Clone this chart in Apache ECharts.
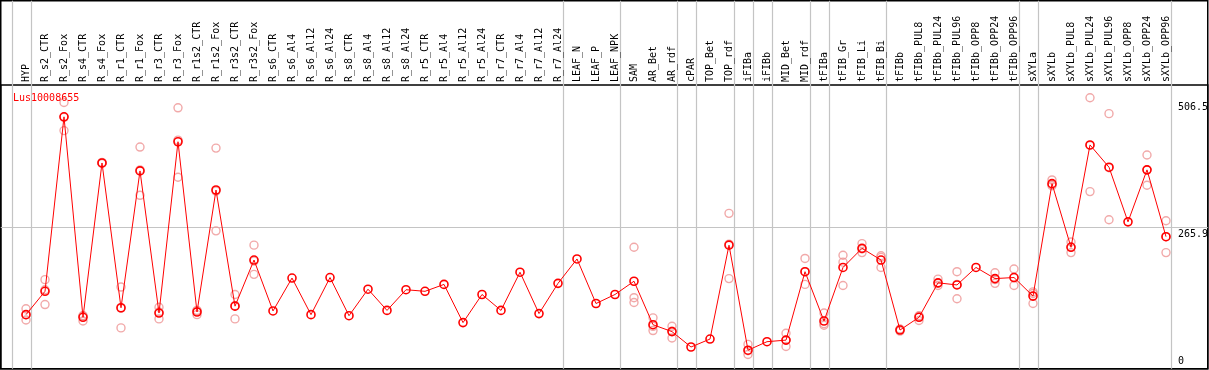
<!DOCTYPE html>
<html><head><meta charset="utf-8">
<script src="https://cdn.jsdelivr.net/npm/echarts@6/dist/echarts.min.js"></script>
<style>html,body{margin:0;padding:0;background:#fff}#c{width:1209px;height:370px}</style>
</head><body><div id="c"></div>
<script>
// ---------- data ----------
const geneId = 'Lus10008655';
const categories = ['HYP','R_s2_CTR','R_s2_Fox','R_s4_CTR','R_s4_Fox','R_r1_CTR','R_r1_Fox','R_r3_CTR','R_r3_Fox',
 'R_r1s2_CTR','R_r1s2_Fox','R_r3s2_CTR','R_r3s2_Fox','R_s6_CTR','R_s6_Al4','R_s6_Al12','R_s6_Al24','R_s8_CTR',
 'R_s8_Al4','R_s8_Al12','R_s8_Al24','R_r5_CTR','R_r5_Al4','R_r5_Al12','R_r5_Al24','R_r7_CTR','R_r7_Al4','R_r7_Al12',
 'R_r7_Al24','LEAF_N','LEAF_P','LEAF_NPK','SAM','AR_Bet','AR_rdf','cPAR','TOP_Bet','TOP_rdf','iFIBa','iFIBb',
 'MID_Bet','MID_rdf','tFIBa','tFIB_Gr','tFIB_Li','tFIB_Bi','tFIBb','tFIBb_PUL8','tFIBb_PUL24','tFIBb_PUL96',
 'tFIBb_OPP8','tFIBb_OPP24','tFIBb_OPP96','sXYLa','sXYLb','sXYLb_PUL8','sXYLb_PUL24','sXYLb_PUL96','sXYLb_OPP8',
 'sXYLb_OPP24','sXYLb_OPP96'];
const means = [102,146,475,97,388,115,373,105,428,107,337,118,205,109,171,102,172,100,150,110,149,146,159,87,140,
 110,182,104,161,207,123,140,165,83,70,41,56,233,35,51,54,183,90,191,227,205,73,97,162,158,191,170,172,137,349,229,
 422,380,277,375,249];
const repA = [113,168,502,100,389,154,418,116,492,109,416,140,233,null,null,null,null,null,null,null,null,null,null,null,null,
 null,null,null,null,null,null,null,229,96,80,null,null,293,46,null,67,208,105,214,236,213,71,91,169,183,null,181,188,145,356,239,
 511,481,null,403,279];
const repB = [92,121,449,90,387,77,327,94,361,102,260,94,178,null,null,null,null,null,null,null,null,null,null,null,null,
 null,null,null,null,null,null,null,134,72,58,null,null,170,27,null,42,159,82,157,219,191,75,100,157,132,null,161,157,123,345,219,
 334,281,null,346,219];
const repC = [102,149,474,100,388,114,375,107,431,110,335,119,203,null,null,null,null,null,null,null,null,null,null,null,null,
 null,null,null,null,null,null,null,125,80,71,null,null,235,34,null,54,183,85,201,226,210,74,99,161,159,null,168,172,142,347,230,
 421,379,null,375,249];
const groupEnds = [-1,0,28,31,34,35,37,38,39,41,42,45,52,53,60];
const axisMarks = [506.5, 265.9, 0];
const gridMark = 265.9;
const yMax = 535;

// ---------- layout ----------
const step = 19, firstX = 26, W = 1209;
const fL = 0.75, fR = 1.25, fT = 0.75, fB = 1.25, pTop = 85;
const xMin = (fL - firstX) / step, xMax = (W - fR - firstX) / step;
const font = 'DejaVu Sans Mono';

const reps = [];
[repA, repB, repC].forEach(arr => arr.forEach((v, i) => { if (v != null) reps.push([i, v]); }));

const labelLines = axisMarks.map(v => [
  { coord: [60.55, v],
    label: { show: true, formatter: String(v), position: v === 0 ? 'insideStartTop' : 'insideStartBottom',
      distance: [1.5, 2], color: '#000', fontFamily: font, fontSize: 10 },
    lineStyle: { color: 'rgba(0,0,0,0)', width: 1 } },
  { coord: [xMax, v] }
]);

const chart = echarts.init(document.getElementById('c'), null, { renderer: 'canvas' });
chart.setOption({
  animation: false,
  title: { text: geneId, left: 8, top: 88, textStyle: { color: '#f00', fontFamily: font, fontSize: 10, fontWeight: 'normal' } },
  grid: [
    { left: firstX - step / 2, width: step * categories.length, top: pTop, bottom: fB },
    { left: fL, right: fR, top: pTop, bottom: fB, show: true, borderColor: '#000', borderWidth: 1.5, backgroundColor: 'transparent' },
    { left: fL, right: fR, top: fT, bottom: fB, show: true, borderColor: '#000', borderWidth: 1.5, backgroundColor: 'transparent' }
  ],
  xAxis: [
    { type: 'category', gridIndex: 0, data: categories, position: 'top', boundaryGap: true,
      axisLine: { show: false }, axisTick: { show: false }, splitLine: { show: false },
      axisLabel: { interval: 0, rotate: 90, margin: 3, color: '#000', fontFamily: font, fontSize: 10 } },
    { type: 'value', gridIndex: 1, min: xMin, max: xMax, show: false },
    { type: 'value', gridIndex: 2, min: xMin, max: xMax, show: false }
  ],
  yAxis: [
    { type: 'value', gridIndex: 0, min: 0, max: yMax, show: false },
    { type: 'value', gridIndex: 1, min: 0, max: yMax, show: false },
    { type: 'value', gridIndex: 2, min: 0, max: 1, show: false }
  ],
  series: [
    { type: 'line', xAxisIndex: 2, yAxisIndex: 2, data: [], silent: true, z: 0,
      markLine: { silent: true, symbol: ['none', 'none'], z: 0, label: { show: false },
        lineStyle: { color: '#c4c4c4', width: 1.2, type: 'solid' },
        data: groupEnds.map(i => ({ xAxis: i + 0.25 })) } },
    { type: 'line', xAxisIndex: 1, yAxisIndex: 1, data: [], silent: true, z: 0,
      markLine: { silent: true, symbol: ['none', 'none'], z: 0,
        label: { show: true, color: '#000', fontFamily: font, fontSize: 10 },
        lineStyle: { color: '#c4c4c4', width: 1.2, type: 'solid' },
        data: [{ yAxis: gridMark, label: { show: false } }].concat(labelLines) } },
    { type: 'scatter', xAxisIndex: 0, yAxisIndex: 0, data: reps, symbol: 'circle', symbolSize: 8, z: 3,
      itemStyle: { color: 'rgba(0,0,0,0)', borderColor: '#ee9494', borderWidth: 1.4 } },
    { type: 'line', xAxisIndex: 0, yAxisIndex: 0, data: means, symbol: 'circle', symbolSize: 8, z: 4,
      itemStyle: { color: 'rgba(0,0,0,0)', borderColor: '#f00', borderWidth: 1.6 },
      lineStyle: { color: '#f00', width: 1 } }
  ]
});
</script></body></html>
